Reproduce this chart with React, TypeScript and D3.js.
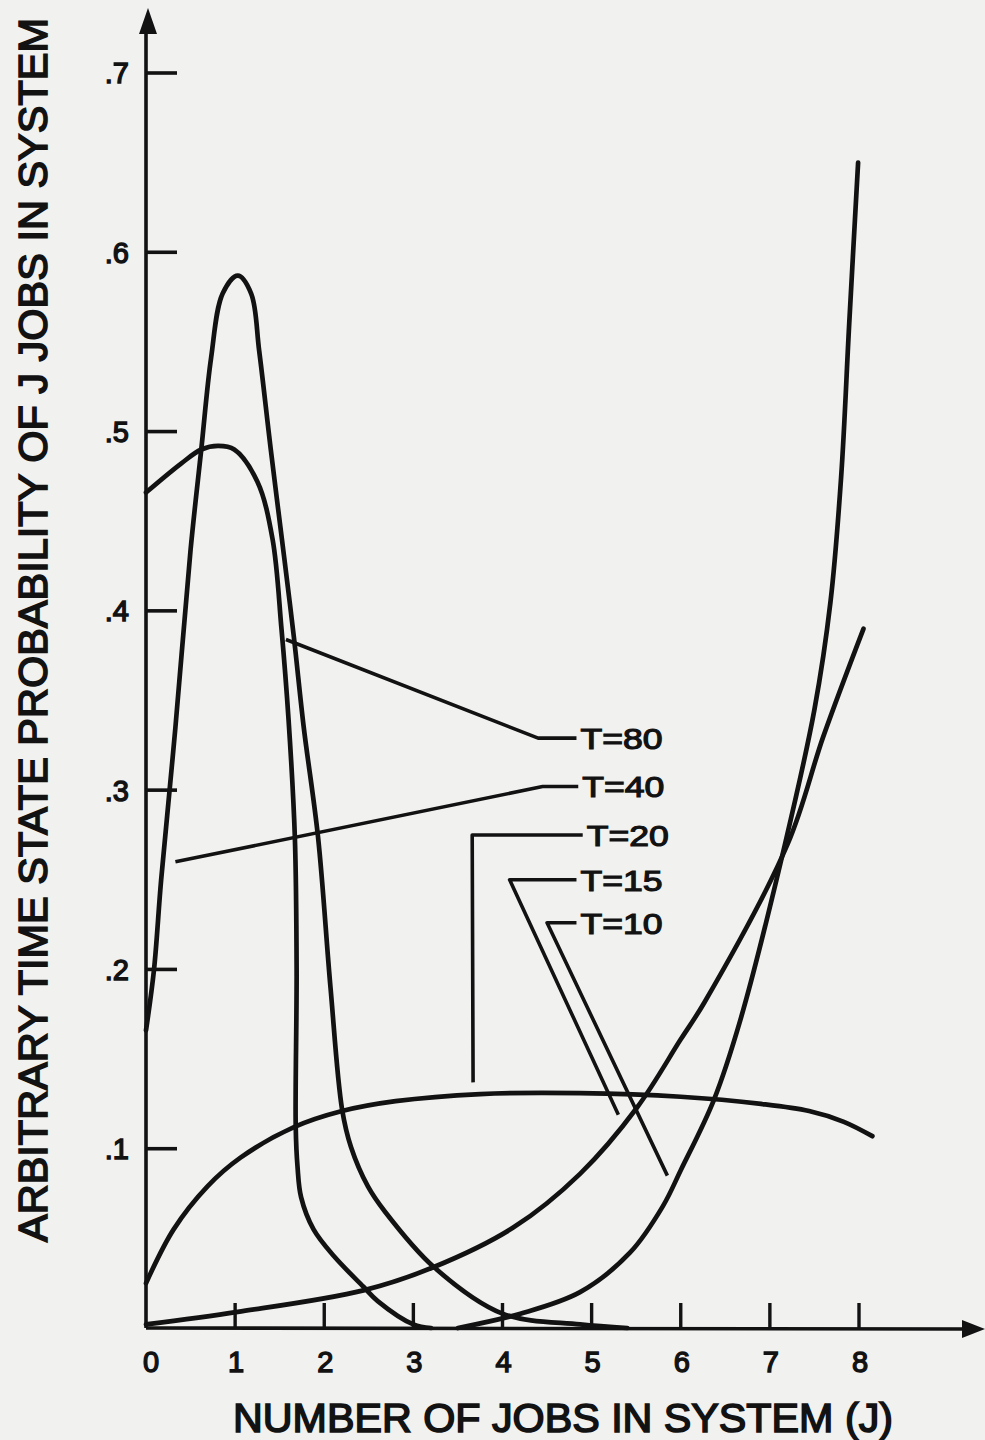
import * as d3 from "d3";

// data: [jobs J, probability]
const T80: [number, number][] = [
  [0, 0.466], [0.39, 0.482], [0.62, 0.49], [0.81, 0.492], [0.99, 0.49],
  [1.25, 0.472], [1.42, 0.44], [1.52, 0.39], [1.6, 0.339], [1.67, 0.274],
  [1.69, 0.2], [1.68, 0.112], [1.7, 0.09], [1.74, 0.073], [1.88, 0.055],
  [2.11, 0.04], [2.44, 0.023], [2.6, 0.015], [3.0, 0.002], [3.2, 0],
];
const T40: [number, number][] = [
  [0, 0.166], [0.09, 0.2], [0.17, 0.25], [0.33, 0.335], [0.5, 0.434],
  [0.62, 0.49], [0.73, 0.541], [0.86, 0.577], [1.03, 0.587], [1.18, 0.577],
  [1.27, 0.545], [1.4, 0.49], [1.55, 0.43], [1.66, 0.385], [1.77, 0.335],
  [1.93, 0.274], [2.07, 0.19], [2.2, 0.122], [2.3, 0.101], [2.49, 0.079],
  [2.68, 0.065], [3.23, 0.034], [4.0, 0.008], [4.87, 0.002], [5.4, 0],
];
const T20: [number, number][] = [
  [0, 0.025], [0.31, 0.055], [0.69, 0.079], [1.06, 0.095], [1.66, 0.112],
  [2.2, 0.121], [2.8, 0.1265], [3.75, 0.1305], [4.87, 0.131], [6.0, 0.129],
  [6.9, 0.125], [7.44, 0.121], [7.83, 0.115], [8.15, 0.107],
];
const T15: [number, number][] = [
  [0, 0.002], [1.03, 0.009], [2.44, 0.021], [3.23, 0.034], [4.12, 0.056],
  [4.87, 0.086], [5.51, 0.123], [6.0, 0.161], [6.27, 0.182], [7.2, 0.27],
  [7.6, 0.33], [8.05, 0.39],
];
const T10: [number, number][] = [
  [3.5, 0], [4.2, 0.008], [4.87, 0.02], [5.43, 0.042], [5.8, 0.068],
  [6.0, 0.088], [6.37, 0.127], [6.67, 0.172], [7.17, 0.27], [7.5, 0.345],
  [7.68, 0.405], [7.8, 0.475], [7.89, 0.56], [7.99, 0.65],
];

const seriesNames = ["T=80", "T=40", "T=20", "T=15", "T=10"];
const series = [T80, T40, T20, T15, T10];

// leader lines from each label to its curve (data coords)
const leaders: [number, number][][] = [
  [[1.57, 0.384], [4.4, 0.329], [4.83, 0.329]],
  [[0.33, 0.26], [4.45, 0.302], [4.85, 0.302]],
  [[3.67, 0.137], [3.66, 0.275], [4.9, 0.275]],
  [[5.3, 0.119], [4.08, 0.25], [4.83, 0.25]],
  [[5.85, 0.085], [4.5, 0.226], [4.83, 0.226]],
];

const xTicks = [0, 1, 2, 3, 4, 5, 6, 7, 8];
const yTicks = [0.1, 0.2, 0.3, 0.4, 0.5, 0.6, 0.7];
const yTickLabels = [".1", ".2", ".3", ".4", ".5", ".6", ".7"];

const ink = "#121212";
const font = "'Liberation Sans', Arial, sans-serif";

export default function App() {
  const width = 985;
  const height = 1440;
  const x = d3.scaleLinear().domain([0, 8]).range([146, 859]);
  const y = d3.scaleLinear().domain([0, 0.7]).range([1328, 73]);

  const line = d3
    .line<[number, number]>()
    .x((d) => x(d[0]))
    .y((d) => y(d[1]))
    .curve(d3.curveCatmullRom.alpha(0.5));

  const straight = d3
    .line<[number, number]>()
    .x((d) => x(d[0]))
    .y((d) => y(d[1]));

  const x0 = x(0);
  const y0 = y(0);

  return (
    <>
      <style>{"body{margin:0;background:#f1f1f0}"}</style>
      <svg width={width} height={height} style={{ display: "block" }}>
        <rect width={width} height={height} fill="#f1f1f0" />

        {/* axes */}
        <line x1={x0} y1={y0} x2={x0} y2={30} stroke={ink} strokeWidth={3.6} />
        <path d={`M${x0 + 2},8 L${x0 - 7},34 L${x0 + 11},34 Z`} fill={ink} />
        <line x1={x0} y1={y0} x2={968} y2={y0 + 1} stroke={ink} strokeWidth={3.6} />
        <path d={`M985,${y0 + 1} L962,${y0 - 8} L962,${y0 + 10} Z`} fill={ink} />

        {yTicks.map((t, i) => (
          <g key={"y" + t}>
            <line x1={x0} x2={x0 + 31} y1={y(t)} y2={y(t)} stroke={ink} strokeWidth={3.6} />
            <text
              x={129}
              y={y(t)}
              dy="0.36em"
              textAnchor="end"
              fontFamily={font}
              fontSize={29}
              fill={ink}
              stroke={ink}
              strokeWidth={1.4}
            >
              {yTickLabels[i]}
            </text>
          </g>
        ))}

        {xTicks.map((t) => (
          <g key={"x" + t}>
            {t > 0 && (
              <line x1={x(t)} x2={x(t)} y1={y0} y2={y0 - 25} stroke={ink} strokeWidth={3.4} />
            )}
            <text
              x={x(t) + (t === 0 ? 5 : 1)}
              y={1362}
              dy="0.36em"
              textAnchor="middle"
              fontFamily={font}
              fontSize={29}
              fill={ink}
              stroke={ink}
              strokeWidth={1.4}
            >
              {t}
            </text>
          </g>
        ))}

        {/* axis titles */}
        <text
          x={233}
          y={1432}
          fontFamily={font}
          fontSize={41}
          textLength={660}
          lengthAdjust="spacingAndGlyphs"
          fill={ink}
          stroke={ink}
          strokeWidth={1.6}
        >
          NUMBER OF JOBS IN SYSTEM (J)
        </text>
        <text
          transform="translate(47,1242) rotate(-90)"
          fontFamily={font}
          fontSize={41}
          textLength={1224}
          lengthAdjust="spacingAndGlyphs"
          fill={ink}
          stroke={ink}
          strokeWidth={1.6}
        >
          ARBITRARY TIME STATE PROBABILITY OF J JOBS IN SYSTEM
        </text>

        {/* curves */}
        {series.map((s, i) => (
          <path
            key={seriesNames[i]}
            d={line(s) ?? ""}
            fill="none"
            stroke={ink}
            strokeWidth={4.7}
            strokeLinecap="round"
            strokeLinejoin="round"
          />
        ))}

        {/* leaders and labels */}
        {leaders.map((l, i) => {
          const end = l[l.length - 1];
          return (
            <g key={"l" + i}>
              <path
                d={straight(l) ?? ""}
                fill="none"
                stroke={ink}
                strokeWidth={3.6}
                strokeLinejoin="round"
              />
              <text
                x={x(end[0]) + 4}
                y={y(end[1])}
                dy="0.36em"
                fontFamily={font}
                fontSize={30}
                textLength={82}
                lengthAdjust="spacingAndGlyphs"
                fill={ink}
                stroke={ink}
                strokeWidth={1.2}
              >
                {seriesNames[i]}
              </text>
            </g>
          );
        })}
      </svg>
    </>
  );
}
